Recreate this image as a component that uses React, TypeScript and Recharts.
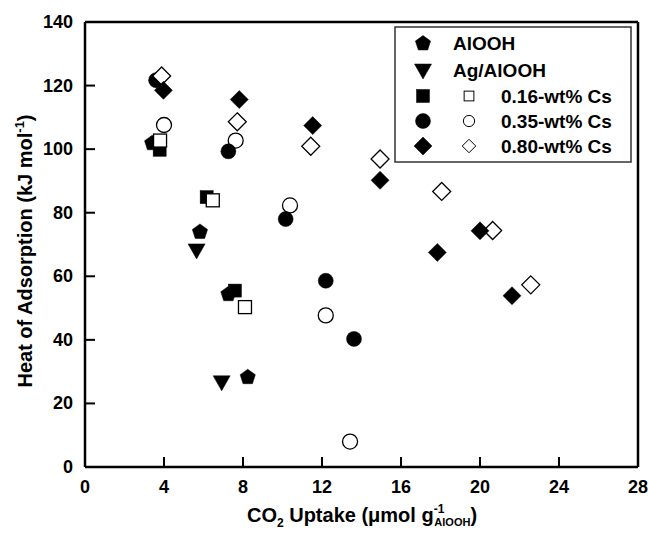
import React from 'react';
import { ScatterChart, Scatter, XAxis, YAxis, ReferenceLine } from 'recharts';

// [CO2 uptake, heat of adsorption]
const aloohPts = [[3.4, 102], [5.82, 74.1], [7.26, 54.5], [8.24, 28.4]];
const agAloohPts = [[5.65, 68.3], [6.92, 26.8]];
const cs016Filled = [[3.78, 99.8], [6.16, 84.9], [7.59, 55.5]];
const cs016Open = [[3.8, 102.7], [6.47, 83.9], [8.1, 50.3]];
const cs035Filled = [[3.6, 121.7], [7.26, 99.3], [10.16, 78], [12.19, 58.6], [13.62, 40.3]];
const cs035Open = [[4.0, 107.6], [7.63, 102.7], [10.38, 82.3], [12.19, 47.7], [13.42, 8.0]];
const cs080Filled = [[3.97, 118.5], [7.81, 115.6], [11.53, 107.4], [14.94, 90.2], [17.84, 67.5], [20.0, 74.3], [21.62, 53.9]];
const cs080Open = [[3.88, 123], [7.71, 108.6], [11.43, 100.9], [14.94, 96.9], [18.06, 86.7], [20.64, 74.4], [22.57, 57.3]];

const xTicks = [0, 4, 8, 12, 16, 20, 24, 28];
const yTicks = [0, 20, 40, 60, 80, 100, 120, 140];

const FONT = '"Liberation Sans", Arial, sans-serif';

const toRows = (pts: number[][]) => pts.map(([x, y]) => ({ x, y }));

type Kind = 'pentagon' | 'triangle' | 'square' | 'circle' | 'diamond';

function marker(kind: Kind, cx: number, cy: number, open: boolean) {
  const fill = open ? '#fff' : '#000';
  const stroke = '#000';
  const sw = open ? 1.3 : 0.5;
  switch (kind) {
    case 'pentagon': {
      const r = 8;
      const pts = [0, 1, 2, 3, 4]
        .map((i) => {
          const a = -Math.PI / 2 + (i * 2 * Math.PI) / 5;
          return `${cx + r * Math.cos(a)},${cy + 0.5 + r * Math.sin(a)}`;
        })
        .join(' ');
      return <polygon points={pts} fill={fill} stroke={stroke} strokeWidth={sw} />;
    }
    case 'triangle':
      return (
        <polygon
          points={`${cx - 8.5},${cy - 6} ${cx + 8.5},${cy - 6} ${cx},${cy + 9}`}
          fill={fill}
          stroke={stroke}
          strokeWidth={sw}
        />
      );
    case 'square':
      return <rect x={cx - 6.5} y={cy - 6.5} width={13} height={13} fill={fill} stroke={stroke} strokeWidth={sw} />;
    case 'circle':
      return <circle cx={cx} cy={cy} r={7.5} fill={fill} stroke={stroke} strokeWidth={sw} />;
    case 'diamond':
    default:
      return (
        <polygon
          points={`${cx},${cy - 9} ${cx + 9},${cy} ${cx},${cy + 9} ${cx - 9},${cy}`}
          fill={fill}
          stroke={stroke}
          strokeWidth={sw}
        />
      );
  }
}

const shapeOf = (kind: Kind, open: boolean) => (props: any) => marker(kind, props.cx, props.cy, open);

const XTick = ({ x, y, payload }: any) => (
  <g>
    <line x1={x} y1={y} x2={x} y2={y - 10} stroke="#000" strokeWidth={2} />
    <text x={x} y={y + 26} textAnchor="middle" fontFamily={FONT} fontWeight="bold" fontSize={18} fill="#000">
      {payload.value}
    </text>
  </g>
);

const YTick = ({ x, y, payload }: any) => (
  <g>
    <line x1={x} y1={y} x2={x + 10} y2={y} stroke="#000" strokeWidth={2} />
    <text x={x - 12} y={y + 6} textAnchor="end" fontFamily={FONT} fontWeight="bold" fontSize={18} fill="#000">
      {payload.value}
    </text>
  </g>
);

const legendRows: { kind: Kind; label: string; hasOpen: boolean }[] = [
  { kind: 'pentagon', label: 'AlOOH', hasOpen: false },
  { kind: 'triangle', label: 'Ag/AlOOH', hasOpen: false },
  { kind: 'square', label: '0.16-wt% Cs', hasOpen: true },
  { kind: 'circle', label: '0.35-wt% Cs', hasOpen: true },
  { kind: 'diamond', label: '0.80-wt% Cs', hasOpen: true },
];

function LegendBox() {
  const rowY = [43, 70, 96, 121, 146];
  return (
    <svg width={648} height={537} style={{ position: 'absolute', left: 0, top: 0, pointerEvents: 'none' }}>
      <rect x={395} y={27} width={236} height={135} fill="#fff" stroke="#333" strokeWidth={1.5} />
      {legendRows.map((r, i) => (
        <g key={r.label}>
          {marker(r.kind, 423, rowY[i], false)}
          {r.hasOpen && (
            <g transform={`translate(${469},${rowY[i]}) scale(0.75) translate(${-469},${-rowY[i]})`}>
              {marker(r.kind, 469, rowY[i], true)}
            </g>
          )}
          <text
            x={r.hasOpen ? 501 : 453}
            y={rowY[i] + 7}
            fontFamily={FONT}
            fontWeight="bold"
            fontSize={19}
            fill="#000"
          >
            {r.label}
          </text>
        </g>
      ))}
      <text
        transform="translate(32,251) rotate(-90)"
        textAnchor="middle"
        fontFamily={FONT}
        fontWeight="bold"
        fontSize={20}
        fill="#000"
      >
        Heat of Adsorption (kJ mol
        <tspan fontSize={13} dy={-8}>-1</tspan>
        <tspan dy={8}>)</tspan>
      </text>
      <text x={362} y={522} textAnchor="middle" fontFamily={FONT} fontWeight="bold" fontSize={20} fill="#000">
        CO
        <tspan fontSize={12} dy={5}>2</tspan>
        <tspan dy={-5}> Uptake (μmol g</tspan>
        <tspan fontSize={12} dy={-9}>-1</tspan>
        <tspan fontSize={11} dx={-10} dy={13}>AlOOH</tspan>
        <tspan dy={-4}>)</tspan>
      </text>
    </svg>
  );
}

export default function App() {
  return (
    <div style={{ position: 'absolute', left: 0, top: 0, width: 648, height: 537, background: '#fff' }}>
      <ScatterChart width={648} height={537} margin={{ top: 22, right: 10, bottom: 0, left: 0 }}>
        <XAxis
          type="number"
          dataKey="x"
          domain={[0, 28]}
          ticks={xTicks}
          height={70}
          tickSize={0}
          tickMargin={0}
          tickLine={false}
          tick={<XTick />}
          axisLine={{ stroke: '#000', strokeWidth: 2.5 }}
          allowDataOverflow
        />
        <YAxis
          type="number"
          dataKey="y"
          domain={[0, 140]}
          ticks={yTicks}
          width={85}
          tickSize={0}
          tickMargin={0}
          tickLine={false}
          tick={<YTick />}
          axisLine={{ stroke: '#000', strokeWidth: 2.5 }}
          allowDataOverflow
        />
        <ReferenceLine x={28} stroke="#000" strokeWidth={2.5} />
        <ReferenceLine y={140} stroke="#000" strokeWidth={2.5} />
        <Scatter data={toRows(aloohPts)} shape={shapeOf('pentagon', false)} isAnimationActive={false} />
        <Scatter data={toRows(agAloohPts)} shape={shapeOf('triangle', false)} isAnimationActive={false} />
        <Scatter data={toRows(cs016Filled)} shape={shapeOf('square', false)} isAnimationActive={false} />
        <Scatter data={toRows(cs016Open)} shape={shapeOf('square', true)} isAnimationActive={false} />
        <Scatter data={toRows(cs035Open)} shape={shapeOf('circle', true)} isAnimationActive={false} />
        <Scatter data={toRows(cs035Filled)} shape={shapeOf('circle', false)} isAnimationActive={false} />
        <Scatter data={toRows(cs080Open)} shape={shapeOf('diamond', true)} isAnimationActive={false} />
        <Scatter data={toRows(cs080Filled)} shape={shapeOf('diamond', false)} isAnimationActive={false} />
      </ScatterChart>
      <LegendBox />
    </div>
  );
}
